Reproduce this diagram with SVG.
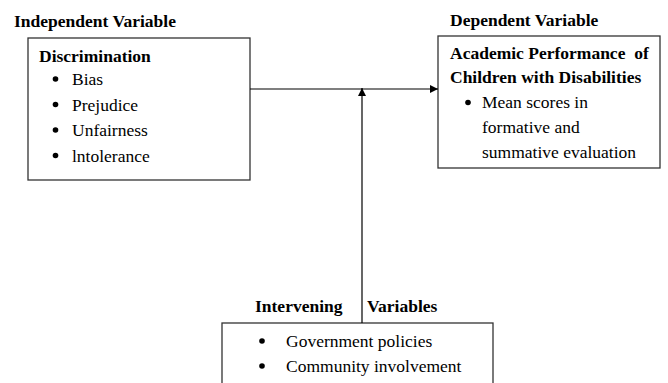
<svg xmlns="http://www.w3.org/2000/svg" width="668" height="383" viewBox="0 0 668 383">
<style>
text{font-family:"Liberation Serif","Times New Roman",serif;font-size:17.5px;fill:#000}
.b{font-weight:bold}
.box{fill:#fff;stroke:#333;stroke-width:1.3}
.ln{stroke:#000;stroke-width:1.2;fill:none}
.dot{fill:#000}
</style>
<defs>
<marker id="ah" viewBox="0 0 10 10" refX="10" refY="5" markerWidth="8" markerHeight="8" markerUnits="userSpaceOnUse" orient="auto">
<path d="M0,0 L10,5 L0,10 z" fill="#000"/>
</marker>
</defs>
<rect width="668" height="383" fill="#fff"/>
<g id="independent">
<text class="b" x="14" y="27">Independent Variable</text>
<rect class="box" x="28" y="38" width="222" height="142"/>
<text class="b" x="39" y="62">Discrimination</text>
<circle class="dot" cx="55.5" cy="79" r="2.8"/><text x="72" y="85">Bias</text>
<circle class="dot" cx="55.5" cy="104.5" r="2.8"/><text x="72" y="110.5">Prejudice</text>
<circle class="dot" cx="55.5" cy="130" r="2.8"/><text x="72" y="136">Unfairness</text>
<circle class="dot" cx="55.5" cy="155.5" r="2.8"/><text x="72" y="161.5">lntolerance</text>
</g>
<g id="dependent">
<text class="b" x="450" y="26">Dependent Variable</text>
<rect class="box" x="438" y="36" width="222" height="132"/>
<text class="b" x="450" y="59" xml:space="preserve">Academic Performance  of</text>
<text class="b" x="450" y="83">Children with Disabilities</text>
<circle class="dot" cx="468" cy="102.5" r="2.8"/><text x="482" y="108">Mean scores in</text>
<text x="482" y="133">formative and</text>
<text x="482" y="158">summative evaluation</text>
</g>
<g id="intervening">
<text class="b" x="255" y="312">Intervening</text>
<text class="b" x="367" y="312">Variables</text>
<rect class="box" x="222" y="323" width="271" height="80"/>
<circle class="dot" cx="262" cy="341" r="2.8"/><text x="286" y="346.5">Government policies</text>
<circle class="dot" cx="262" cy="366" r="2.8"/><text x="286" y="372">Community involvement</text>
</g>
<g id="connectors">
<line class="ln" x1="250" y1="89" x2="438" y2="89" marker-end="url(#ah)"/>
<line class="ln" x1="362" y1="323" x2="362" y2="88" marker-end="url(#ah)"/>
</g>
</svg>
